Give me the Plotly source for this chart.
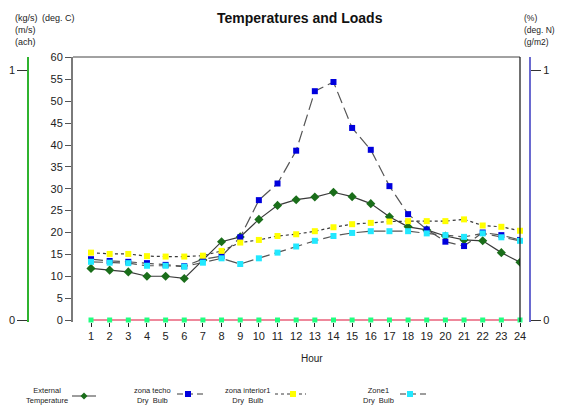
import plotly.graph_objects as go

hours = list(range(1, 25))
hour_labels = [str(h) for h in hours]

external_temp = [11.8, 11.4, 11.0, 10.0, 10.0, 9.5, 13.7, 17.9, 19.0, 23.0, 26.2, 27.5, 28.1, 29.2,
                 28.2, 26.6, 23.6, 21.3, 20.6, 19.2, 18.3, 18.1, 15.4, 13.2]
zona_techo = [13.9, 13.5, 13.3, 13.0, 12.6, 12.3, 13.9, 14.6, 18.9, 27.4, 31.2, 38.7, 52.3, 54.4,
              43.9, 38.9, 30.6, 24.2, 20.7, 17.9, 16.9, 20.0, 19.4, 18.3]
zona_interior1 = [15.4, 15.1, 15.1, 14.6, 14.5, 14.5, 14.7, 15.8, 17.7, 18.3, 19.2, 19.6, 20.3, 21.2,
                  21.9, 22.2, 22.5, 22.6, 22.6, 22.6, 23.0, 21.6, 21.3, 20.4]
zone1 = [13.3, 13.1, 13.0, 12.4, 12.4, 12.2, 13.1, 14.1, 12.8, 14.1, 15.4, 16.8, 18.1, 19.2,
         19.9, 20.3, 20.3, 20.3, 19.8, 19.4, 19.0, 19.8, 18.9, 18.1]
zero_series = [0] * 24

y_ticks = list(range(0, 61, 5))
aux_ticks = [0, 1]

OFF = 8  # page body margin
W, H = 564 - OFF, 405 - OFF
PL, PR, PT, PB = 73, 520, 57, 322
ML, MR = 4, 4
MT = PT - OFF
MB = H - (PB - OFF)
PW = W - ML - MR
PH = H - MT - MB


def px(x):
    return (x - OFF - ML) / PW


def py(y):
    return (PB - y) / PH


FONT = "Liberation Sans, Arial, sans-serif"
LINE = "#3a3a3a"

fig = go.Figure()

fig.add_trace(go.Scatter(x=hours, y=zero_series, mode="lines+markers",
                         line=dict(color="#e8607a", width=1.5),
                         marker=dict(symbol="square", size=5, color="#20ff80"),
                         showlegend=False, cliponaxis=False))
fig.add_trace(go.Scatter(x=hours, y=external_temp, mode="lines+markers",
                         line=dict(color=LINE, width=1.2),
                         marker=dict(symbol="diamond", size=7, color="#1a6e1a"),
                         showlegend=False))
fig.add_trace(go.Scatter(x=hours, y=zona_techo, mode="lines+markers",
                         line=dict(color="#555555", width=1.2, dash="12px,5px"),
                         marker=dict(symbol="square", size=6, color="#0000dd"),
                         showlegend=False))
fig.add_trace(go.Scatter(x=hours, y=zona_interior1, mode="lines+markers",
                         line=dict(color=LINE, width=1.2, dash="3px,3px"),
                         marker=dict(symbol="square", size=6, color="#ffff00"),
                         showlegend=False, cliponaxis=False))
fig.add_trace(go.Scatter(x=hours, y=zone1, mode="lines+markers",
                         line=dict(color="#555555", width=1.2, dash="12px,5px"),
                         marker=dict(symbol="square", size=6, color="#22e8ff"),
                         showlegend=False, cliponaxis=False))
fig.add_trace(go.Scatter(x=[None], y=[None], yaxis="y2", showlegend=False, hoverinfo="skip"))
fig.add_trace(go.Scatter(x=[None], y=[None], yaxis="y3", showlegend=False, hoverinfo="skip"))

x0d, x1d = px(PL), px(PR)

ppu = (320 - 57.5) / 60.0
y_lo = -(PB - 320) / ppu
y_hi = 60 + (57.5 - PT) / ppu
apu = 250.0
a_lo = -(PB - 320) / apu
a_hi = 1 + (70 - PT) / apu

fig.update_layout(
    width=W, height=H,
    margin=dict(l=ML, r=MR, t=MT, b=MB, autoexpand=False),
    paper_bgcolor="white", plot_bgcolor="white",
    font=dict(family=FONT, size=11, color="#222222"),
    xaxis=dict(domain=[x0d, x1d], range=[0.035, 24], tickvals=hours, ticktext=hour_labels,
               showgrid=False, zeroline=False, showline=False, automargin=False,
               ticks="outside", ticklen=4, tickcolor="#222222", tickwidth=1,
               tickfont=dict(size=11, color="#222222")),
    yaxis=dict(range=[y_lo, y_hi], tickvals=y_ticks, showgrid=False, zeroline=False,
               showline=True, linecolor="#7a7a7a", linewidth=2, automargin=False,
               ticks="outside", ticklen=6, tickcolor="#555555",
               tickfont=dict(size=11, color="#222222")),
    yaxis2=dict(range=[a_lo, a_hi], tickvals=aux_ticks, overlaying="y", anchor="free",
                position=px(28), side="left", showgrid=False, zeroline=False, automargin=False,
                showline=True, linecolor="#2fb32f", linewidth=1.5,
                ticks="outside", ticklen=10, tickcolor="#333333",
                tickfont=dict(size=11, color="#222222")),
    yaxis3=dict(range=[a_lo, a_hi], tickvals=aux_ticks, overlaying="y", anchor="free",
                position=px(530), side="right", showgrid=False, zeroline=False, automargin=False,
                showline=True, linecolor="#6a6ad0", linewidth=2,
                ticks="outside", ticklen=10, tickcolor="#333333",
                tickfont=dict(size=11, color="#222222")),
    showlegend=False,
)

fig.add_shape(type="line", xref="x domain", yref="y domain", x0=0, x1=1, y0=1, y1=1,
              line=dict(color="#444444", width=1))
fig.add_shape(type="line", xref="x domain", yref="y domain", x0=1, x1=1, y0=0, y1=1,
              line=dict(color="#111111", width=1.2))


def note(text, x, y, size, xanchor="center", align="center", color="#222222"):
    return dict(text=text, x=px(x), y=py(y), xref="paper", yref="paper",
                xanchor=xanchor, yanchor="middle", align=align, showarrow=False,
                font=dict(size=size, color=color))


ann = []
ann.append(note("<b>Temperatures and Loads</b>", 300, 18, 14, color="#111111"))
ann.append(note("Hour", 312, 358, 10))
ann.append(note("(deg. C)", 40, 18, 9, xanchor="left"))
for i, t in enumerate(["(kg/s)", "(m/s)", "(ach)"]):
    ann.append(note(t, 13, 18 + 12 * i, 9, xanchor="left"))
for i, t in enumerate(["(%)", "(deg. N)", "(g/m2)"]):
    ann.append(note(t, 522, 18 + 12 * i, 8.5, xanchor="left"))

legend_items = [
    ("External<br>Temperature", 70, 72, 96, 84, 396, "diamond", "#1a6e1a", "solid"),
    ("zona techo<br>Dry  Bulb", 173, 177, 206, 188, 394, "square", "#0000dd", "6px,4px"),
    ("zona interior1<br>Dry  Bulb", 272, 275, 306, 293, 394, "square", "#ffff00", "3px,3px"),
    ("Zone1<br>Dry  Bulb", 396, 400, 426, 410, 394, "square", "#22e8ff", "6px,4px"),
]
for text, tx, lx0, lx1, mx, my, sym, col, dash in legend_items:
    ann.append(note(text, tx, 395.5, 7.5, xanchor="right"))
    fig.add_shape(type="line", xref="paper", yref="paper", x0=px(lx0), x1=px(lx1),
                  y0=py(my), y1=py(my), line=dict(color=LINE, width=1, dash=dash))
    if sym == "diamond":
        path = "M {a},{b} L {c},{d} L {a},{e} L {f},{d} Z".format(
            a=px(mx), b=py(my - 3.5), c=px(mx + 3.5), d=py(my), e=py(my + 3.5), f=px(mx - 3.5))
        fig.add_shape(type="path", xref="paper", yref="paper", path=path,
                      fillcolor=col, line=dict(color=col, width=0))
    else:
        fig.add_shape(type="rect", xref="paper", yref="paper", x0=px(mx - 3), x1=px(mx + 3),
                      y0=py(my - 3), y1=py(my + 3), fillcolor=col, line=dict(color=col, width=0))

fig.update_layout(annotations=ann)
fig.write_html("out.html")
